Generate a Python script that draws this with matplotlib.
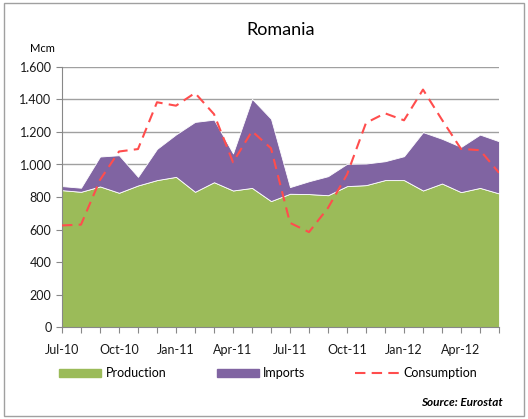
import numpy as np
import matplotlib.pyplot as plt
from matplotlib.patches import Rectangle

months = ["Jul-10", "Aug-10", "Sep-10", "Oct-10", "Nov-10", "Dec-10",
          "Jan-11", "Feb-11", "Mar-11", "Apr-11", "May-11", "Jun-11",
          "Jul-11", "Aug-11", "Sep-11", "Oct-11", "Nov-11", "Dec-11",
          "Jan-12", "Feb-12", "Mar-12", "Apr-12", "May-12", "Jun-12"]
production = [842, 832, 865, 826, 871, 904, 924, 832, 891, 840, 856, 775,
              820, 818, 811, 867, 873, 904, 904, 840, 883, 830, 856, 822]
total_supply = [867, 857, 1049, 1057, 924, 1096, 1185, 1262, 1276, 1068, 1404, 1281,
                861, 897, 928, 1004, 1006, 1020, 1051, 1199, 1158, 1108, 1184, 1143]
imports = [t - p for t, p in zip(total_supply, production)]
consumption = [625, 630, 905, 1080, 1095, 1383, 1362, 1440, 1310, 1014, 1205, 1100,
               641, 584, 733, 938, 1256, 1315, 1272, 1461, 1275, 1096, 1088, 949]

plt.rcParams['font.family'] = ['Lato', 'DejaVu Sans']

fig = plt.figure(figsize=(5.28, 4.19), dpi=100)
fig.patches.append(Rectangle((0.008, 0.008), 0.984, 0.984, transform=fig.transFigure,
                             fill=False, edgecolor='#a0a0a0', lw=1))
ax = fig.add_axes([62/528, 1-327/419, (499-62)/528, (327-67)/419])

x = np.arange(len(months))
green = '#9BBB59'
purple = '#8064A2'
red = '#FF4D4D'
ax.stackplot(x, production, imports, colors=[green, purple], edgecolor='white',
             linewidth=0.6, zorder=2)
ax.plot(x, consumption, color=red, lw=1.5, dashes=(5, 3), zorder=3)

ax.set_xlim(0, len(months) - 1)
ax.set_ylim(0, 1600)
ax.set_yticks(range(0, 1601, 200))
ax.set_yticklabels([f"{v:,}".replace(",", ".") for v in range(0, 1601, 200)])
ax.set_xticks(x)
ax.set_xticklabels([m if i % 3 == 0 else "" for i, m in enumerate(months)])
ax.grid(axis='y', color='#a0a0a0', lw=1, zorder=0)
ax.set_axisbelow(True)
for s in ['top', 'right']:
    ax.spines[s].set_visible(False)
for s in ['left', 'bottom']:
    ax.spines[s].set_color('#888888')
ax.tick_params(axis='both', colors='#888888', labelcolor='#1a1a1a', labelsize=9, length=4)
ax.tick_params(axis='x', pad=8)

fig.text(281/528, 1-30/419, "Romania", ha='center', va='center', fontsize=13)
fig.text(42/528, 1-48/419, "Mcm", ha='center', va='center', fontsize=8)

# legend
fig.patches.append(Rectangle((59/528, 1-377/419), 42/528, 8/419, transform=fig.transFigure,
                             color=green))
fig.text(106/528, 1-373/419, "Production", va='center', fontsize=9)
fig.patches.append(Rectangle((217/528, 1-377/419), 42/528, 8/419, transform=fig.transFigure,
                             color=purple))
fig.text(263/528, 1-373/419, "Imports", va='center', fontsize=9)
fig.lines.append(plt.Line2D([355/528, 399/528], [1-373/419, 1-373/419], transform=fig.transFigure,
                            color=red, lw=1.5, dashes=(5, 3)))
fig.text(403/528, 1-373/419, "Consumption", va='center', fontsize=9)

fig.text(503/528, 1-402/419, "Source: Eurostat", ha='right', va='center', fontsize=8.5,
         fontweight='bold', fontstyle='italic')

fig.savefig("out.png", dpi=100)
